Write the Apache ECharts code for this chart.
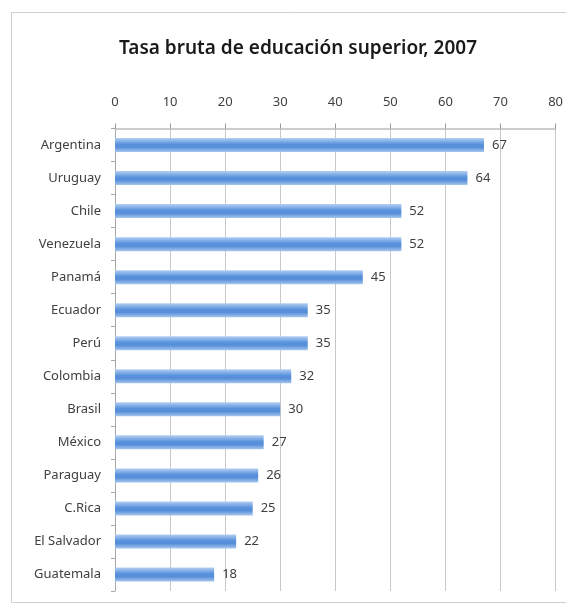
<!DOCTYPE html>
<html>
<head>
<meta charset="utf-8">
<script src="https://cdn.jsdelivr.net/npm/echarts@6/dist/echarts.min.js"></script>
<style>
  html, body { margin: 0; padding: 0; background: #ffffff; }
  #chart { width: 566px; height: 605px; }
</style>
</head>
<body>
<div id="chart"></div>
<script>
// Gross tertiary enrolment rate by country, 2007
const titleText = 'Tasa bruta de educación superior, 2007';
const countries = ['Argentina', 'Uruguay', 'Chile', 'Venezuela', 'Panamá', 'Ecuador', 'Perú',
                   'Colombia', 'Brasil', 'México', 'Paraguay', 'C.Rica', 'El Salvador', 'Guatemala'];
const rates = [67, 64, 52, 52, 45, 35, 35, 32, 30, 27, 26, 25, 22, 18];
const axisMin = 0;
const axisMax = 80;
const axisStep = 10;

const textColor = '#404040';
const fontFamily = '"Noto Sans", "Open Sans", sans-serif';

const chart = echarts.init(document.getElementById('chart'), null, { renderer: 'canvas' });

chart.setOption({
  backgroundColor: '#ffffff',
  animation: false,
  title: {
    text: titleText,
    left: 293,
    textAlign: 'center',
    top: 34,
    textStyle: { fontFamily: fontFamily, fontSize: 19, fontWeight: 600, color: '#1a1a1a' }
  },
  graphic: [{
    type: 'rect',
    shape: { x: 11.5, y: 12.5, width: 600, height: 590 },
    style: { fill: 'none', stroke: '#cfcfcf', lineWidth: 1 },
    silent: true,
    z: -1
  }],
  grid: { left: 115, right: 9, top: 128.5, bottom: 14, containLabel: false },
  xAxis: {
    type: 'value',
    position: 'top',
    min: axisMin,
    max: axisMax,
    interval: axisStep,
    axisLine: { show: true, lineStyle: { color: '#bdbdbd', width: 1.5 } },
    axisTick: { show: true, length: 5, lineStyle: { color: '#9a9a9a' } },
    axisLabel: { margin: 20, fontFamily: fontFamily, fontSize: 13, color: textColor },
    splitLine: { show: true, lineStyle: { color: '#c8c8c8', width: 1 } }
  },
  yAxis: {
    type: 'category',
    data: countries,
    inverse: true,
    axisLine: { show: true, lineStyle: { color: '#a8a8a8', width: 1 } },
    axisTick: { show: true, length: 4, alignWithLabel: false, lineStyle: { color: '#a8a8a8' } },
    axisLabel: { margin: 14, fontFamily: fontFamily, fontSize: 13, color: textColor },
    splitLine: { show: false }
  },
  series: [{
    type: 'bar',
    data: rates,
    barWidth: 14,
    itemStyle: {
      color: new echarts.graphic.LinearGradient(0, 0, 0, 1, [
        { offset: 0, color: '#b3cff2' },
        { offset: 0.45, color: '#5891dc' },
        { offset: 0.65, color: '#558dd8' },
        { offset: 1, color: '#a7c6ee' }
      ])
    },
    label: {
      show: true,
      position: 'right',
      distance: 8,
      fontFamily: fontFamily,
      fontSize: 13,
      color: textColor
    }
  }]
});
</script>
</body>
</html>
